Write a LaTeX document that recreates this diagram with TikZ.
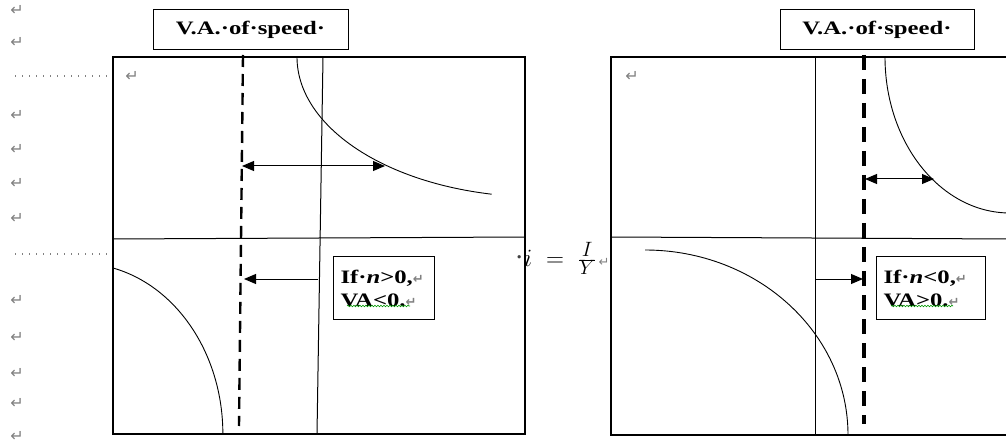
\documentclass[tikz,border=0pt]{standalone}
\usepackage{fontspec}
\setmainfont{Liberation Serif}
\newfontfamily\labfont[FakeStretch=1.3]{Liberation Serif}
\newfontfamily\symfont{DejaVu Sans}
\usetikzlibrary{arrows.meta,decorations.pathmorphing}
\newcommand\retmark{{\symfont\fontsize{13}{13}\selectfont\color{gray}↵}}
\tikzset{
  frame/.style={line width=1.4pt},
  axis/.style={line width=1pt},
  curve/.style={line width=0.9pt},
  valine/.style={line width=2.4pt, dash pattern=on 12pt off 7pt},
  valinethick/.style={line width=3.6pt, dash pattern=on 15pt off 9pt},
  arr/.style={line width=1pt, -{Triangle[length=12pt,width=10pt]}},
  darr/.style={line width=1pt, {Triangle[length=12pt,width=10pt]}-{Triangle[length=12pt,width=10pt]}},
  labelbox/.style={draw, line width=1pt, inner sep=0pt, font=\labfont\bfseries\fontsize{19}{23}\selectfont},
  notebox/.style={draw, line width=1pt, inner sep=0pt, align=left, font=\labfont\bfseries\fontsize{19}{23}\selectfont},
  ret/.style={inner sep=0pt, font=\symfont\fontsize{16}{16}\selectfont, text=gray},
  guide/.style={gray, line width=1.2pt, dash pattern=on 1.2pt off 5.8pt},
  squiggle/.style={green!60!black, line width=0.6pt, decorate, decoration={snake, amplitude=0.8pt, segment length=3pt}}
}
\begin{document}
\begin{tikzpicture}[x=1pt,y=-1pt]
\useasboundingbox (0,0) rectangle (1006,446);
\clip (0,0) rectangle (1006,446);
% return marks in the margin
\foreach \yy [count=\k] in {10,42,115,149,183,218,300,337,373,403,436}
  \node[ret] (r\k) at (17,\yy) {↵};
\node[ret] (rA) at (132,76) {↵};
\node[ret] (rB) at (632,76) {↵};
% guide dotted lines
\coordinate (g1a) at (15,76); \coordinate (g1b) at (110,76);
\coordinate (g2a) at (15,254); \coordinate (g2b) at (110,254);
\draw[guide] (g1a) -- (g1b);
\draw[guide] (g2a) -- (g2b);

% ===== left panel =====
\coordinate (L1) at (113,57); \coordinate (L2) at (525,434);
\draw[frame] (L1) rectangle (L2);
\coordinate (Lvt) at (323,57); \coordinate (Lvb) at (317,434);
\coordinate (Lhl) at (113,239); \coordinate (Lhr) at (525,237);
\draw[axis] (Lvt) -- (Lvb);
\draw[axis] (Lhl) -- (Lhr);
\coordinate (Ldt) at (243,55); \coordinate (Ldb) at (239,426);
\draw[valine] (Ldt) -- (Ldb);
% curves
\coordinate (Lc1) at (297,57);
\draw[curve] (Lc1) arc[start angle=180, end angle=101.5, x radius=243, y radius=140];
\coordinate (Lc2s) at (113,268);
\draw[curve] (Lc2s) arc[start angle=-76.6, end angle=0, x radius=143, y radius=170.6];
% arrows
\coordinate (La1) at (242,166); \coordinate (La2) at (385,166);
\draw[darr] (La1) -- (La2);
\coordinate (Lb1) at (318,279); \coordinate (Lb2) at (244,279);
\draw[arr] (Lb1) -- (Lb2);
% labels
\node[labelbox, minimum width=195pt, minimum height=40pt] (vaL) at (250.5,30) {V.A.·of·speed·};
\node[notebox, minimum width=101pt, minimum height=62pt, text width=86pt] (nL) at (383.5,288)
  {If·\textit{n}>0,\retmark\\VA<0.\retmark};
\coordinate (sqLa) at (347,306); \coordinate (sqLb) at (410,306);
\draw[squiggle] (sqLa) -- (sqLb);

% ===== formula =====
\node[inner sep=0pt, anchor=base] (fml) at (562,266)
  {\fontsize{28}{28}\selectfont{\color{darkgray}·}$i\;=\;\frac{I}{Y}$\hspace{2pt}\retmark};

% ===== right panel =====
\coordinate (R1) at (611,57); \coordinate (R2) at (611,435);
\coordinate (R1e) at (1012,57); \coordinate (R2e) at (1012,435);
\draw[frame] (R1e) -- (R1) -- (R2) -- (R2e);
\coordinate (Rvt) at (815,57); \coordinate (Rvb) at (815,435);
\coordinate (Rhl) at (611,237); \coordinate (Rhr) at (1012,239);
\draw[axis] (Rvt) -- (Rvb);
\draw[axis] (Rhl) -- (Rhr);
\coordinate (Rdt) at (864,55); \coordinate (Rdb) at (864,424);
\draw[valinethick] (Rdt) -- (Rdb);
% curves
\coordinate (Rc1) at (885,57);
\draw[curve] (Rc1) arc[start angle=180, end angle=90, x radius=125, y radius=156];
\coordinate (Rc2) at (645,250);
\draw[curve] (Rc2) arc[start angle=-90, end angle=0, x radius=203, y radius=185];
% arrows
\coordinate (Ra1) at (865,179); \coordinate (Ra2) at (934,179);
\draw[darr] (Ra1) -- (Ra2);
\coordinate (Rb1) at (815,279); \coordinate (Rb2) at (863,279);
\draw[arr] (Rb1) -- (Rb2);
% labels
\node[labelbox, minimum width=194pt, minimum height=40pt] (vaR) at (877,30) {V.A.·of·speed·};
\node[notebox, minimum width=109pt, minimum height=62pt, text width=94pt] (nR) at (930.5,288)
  {If·\textit{n}<0,\retmark\\VA>0.\retmark};
\coordinate (sqRa) at (891,306); \coordinate (sqRb) at (953,306);
\draw[squiggle] (sqRa) -- (sqRb);
\end{tikzpicture}
\end{document}
